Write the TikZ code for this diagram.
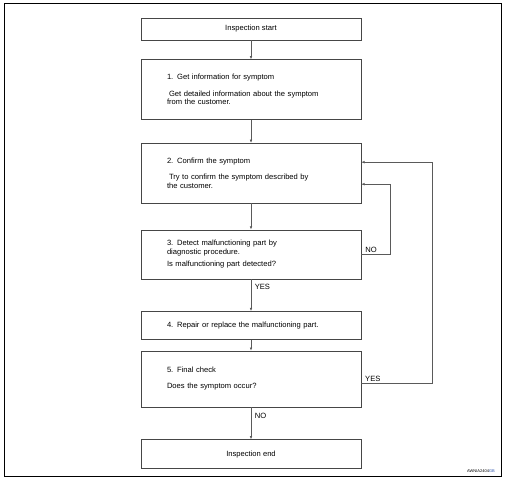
\documentclass[tikz,border=0pt]{standalone}
\usepackage{fontspec}
\setmainfont{Liberation Sans}
\usepackage{tikz}
\usetikzlibrary{arrows.meta,positioning}
\definecolor{boxline}{RGB}{70,70,70}
\definecolor{flowline}{RGB}{90,90,90}
\definecolor{codeblue}{RGB}{40,80,170}

\begin{document}
\begin{tikzpicture}[x=1pt,y=1pt,>={Latex[length=3.2pt,width=2.6pt]},
  every node/.style={font=\fontsize{7.6}{8.2}\selectfont},
  stepbox/.style={draw=boxline,line width=0.6pt,minimum width=220pt,text width=168pt,align=left,inner sep=0pt},
  endbox/.style={draw=boxline,line width=0.6pt,minimum width=220pt,align=center,inner sep=0pt},
  flow/.style={->,draw=flowline,line width=0.6pt},
  answer/.style={inner sep=1.5pt}]
  \useasboundingbox (0,0) rectangle (505,-478);
  \draw[line width=1pt] (4,-4) rectangle (501,-476);
  \node[endbox,minimum height=22pt] (start) at (251,-29) {Inspection start};
  \node[stepbox,minimum height=60pt,below=19pt of start] (s1) {
    1. Get information for symptom\\[8.6pt]
    \hspace*{2pt}Get detailed information about the symptom\\
    from the customer.
  };
  \node[stepbox,minimum height=60pt,below=23pt of s1] (s2) {
    2. Confirm the symptom\\[8pt]
    \hspace*{2pt}Try to confirm the symptom described by\\
    the customer.
  };
  \node[stepbox,minimum height=49pt,below=26pt of s2] (s3) {
    3. Detect malfunctioning part by\\
    diagnostic procedure.\\[4.5pt]
    Is malfunctioning part detected?
  };
  \node[stepbox,minimum height=28pt,below=32pt of s3] (s4) {
    4. Repair or replace the malfunctioning part.
  };
  \node[stepbox,minimum height=56pt,below=11pt of s4] (s5) {
    5. Final check\\[7.8pt]
    Does the symptom occur?
  };
  \node[endbox,minimum height=29pt,below=32pt of s5] (stop) {Inspection end};
  \node[anchor=east,inner sep=0pt,font=\fontsize{4}{4}\selectfont] (code) at (495,-471) {AWNIA2404\textcolor{codeblue}{GB}};
  \draw[flow] (start) -- (s1);
  \draw[flow] (s1) -- (s2);
  \draw[flow] (s2) -- (s3);
  \draw[flow] (s3) -- node[pos=0.25,right=2pt,answer]{YES} (s4);
  \draw[flow] (s4) -- (s5);
  \draw[flow] (s5) -- node[pos=0.27,right=2pt,answer]{NO} (stop);
  \draw[flow] (s3.east) -- node[pos=0.08,above right,answer]{NO} ++(29,0) |- ([yshift=-11pt]s2.east);
  \draw[flow] ([yshift=-4pt]s5.east) -- node[pos=0.03,above right,answer]{YES} ++(71,0) |- ([yshift=11pt]s2.east);
\end{tikzpicture}
\end{document}
